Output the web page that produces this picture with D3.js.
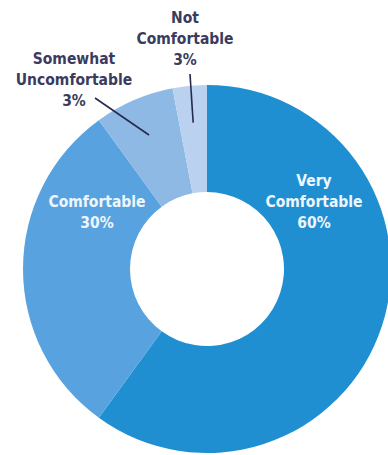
<!DOCTYPE html>
<html><head><meta charset="utf-8">
<script src="https://cdn.jsdelivr.net/npm/d3@7"></script>
<style>html,body{margin:0;padding:0;background:#fff;overflow:hidden}</style>
</head><body>
<svg id="c" width="388" height="455"></svg>
<script>
const categories = ["Very Comfortable", "Comfortable", "Somewhat Uncomfortable", "Not Comfortable"];
const values = [60, 30, 7, 3];
const valueLabels = ["60%", "30%", "3%", "3%"];
const colors = ["#1f8fd2", "#58a3df", "#8fb9e5", "#bad1ef"];

const svg = d3.select("#c");
const cx = 207, cy = 269, rOuter = 184, rInner = 77;
const g = svg.append("g").attr("transform", `translate(${cx},${cy})`);

const pie = d3.pie().sort(null).value(d => d)(values);
const arc = d3.arc().innerRadius(rInner).outerRadius(rOuter);

g.selectAll("path").data(pie).join("path")
  .attr("d", arc)
  .attr("fill", (d, i) => colors[i]);

const font = "'DejaVu Sans Condensed', 'DejaVu Sans', sans-serif";
const labels = [
  {lines: ["Very", "Comfortable", valueLabels[0]], x: 314, y: 186, fill: "#eef6fc"},
  {lines: ["Comfortable", valueLabels[1]], x: 97, y: 207, fill: "#eef6fc"},
  {lines: ["Somewhat", "Uncomfortable", valueLabels[2]], x: 74, y: 64, fill: "#3a3b5e"},
  {lines: ["Not", "Comfortable", valueLabels[3]], x: 185, y: 23, fill: "#3a3b5e"}
];
labels.forEach(l => {
  const t = svg.append("text")
    .attr("text-anchor", "middle")
    .attr("font-family", font)
    .attr("font-weight", "bold")
    .attr("font-size", 15.5)
    .attr("fill", l.fill);
  l.lines.forEach((s, j) => {
    t.append("tspan").attr("x", l.x).attr("y", l.y + j * 21).text(s);
  });
});

const leaders = [
  {i: 2, x1: 95, y1: 98, r: 146},
  {i: 3, x1: 190, y1: 74, r: 147}
];
leaders.forEach(L => {
  const d = pie[L.i];
  const a = (d.startAngle + d.endAngle) / 2;
  const x2 = cx + Math.sin(a) * L.r, y2 = cy - Math.cos(a) * L.r;
  svg.append("line")
    .attr("x1", L.x1).attr("y1", L.y1)
    .attr("x2", x2).attr("y2", y2)
    .attr("stroke", "#262a4e").attr("stroke-width", 1.6);
});
</script>
</body></html>
